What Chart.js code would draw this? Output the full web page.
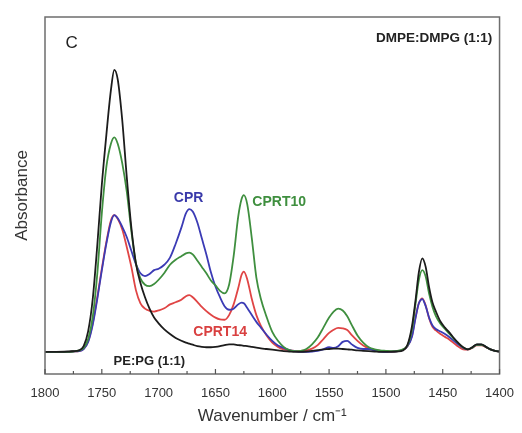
<!DOCTYPE html>
<html>
<head>
<meta charset="utf-8">
<script src="https://cdn.jsdelivr.net/npm/chart.js@4.4.1/dist/chart.umd.min.js"></script>
<style>
  html, body { margin: 0; padding: 0; background: #ffffff; }
  canvas { display: block; }
</style>
</head>
<body>
<canvas id="c" width="522" height="433"></canvas>
<script>
// Wavenumber grid (cm^-1)
const wavenumbers = [1800,1790,1780,1775,1770,1766,1762,1758,1754,1750,1746,1742,1739,1736,1732,1728,1724,1720,1716,1712,
  1708,1704,1700,1695,1690,1685,1680,1676,1673,1670,1666,1662,1658,1654,1650,1646,1642,1638,1634,1630,
  1627,1625,1622,1618,1614,1610,1605,1600,1595,1590,1585,1580,1575,1570,1565,1560,1555,1550,1546,1542,
  1538,1534,1530,1525,1520,1515,1510,1505,1500,1495,1490,1485,1481,1477,1474,1471,1468,1465,1462,1459,
  1456,1452,1448,1444,1440,1436,1432,1428,1424,1420,1416,1412,1408,1404,1400];

// PE:PG (1:1) - black
const pePg = [6.2,6.2,6.3,6.4,6.6,7.8,12,21,36,53,67,79.5,85.2,82.5,71,55,41,31,25.5,21.5,
  18.3,15.8,14.2,12.5,11.2,10.1,9.3,8.8,8.5,8.2,7.8,7.6,7.5,7.5,7.6,7.8,8.1,8.3,8.3,8.1,
  8.0,7.9,7.8,7.6,7.4,7.2,7.0,6.8,6.6,6.4,6.3,6.2,6.2,6.3,6.5,6.7,6.9,7.0,7.1,7.1,
  7.0,6.9,6.8,6.6,6.5,6.4,6.3,6.2,6.2,6.2,6.3,6.6,8.2,13.5,20.5,28.5,32.4,30,24.3,20,
  17.5,14.7,13,11.6,10,8.6,7.5,6.9,7.5,8.3,8.3,7.6,6.9,6.5,6.3];

// CPRT10 - green
const cprt10 = [6.2,6.2,6.2,6.3,6.6,7.3,9.8,16,28,45,58,64.5,66.3,64.5,59,51,40,31,26.8,25.0,
  24.6,25.2,26.4,28.3,30.6,32.0,33.0,33.8,34.0,33.5,31.8,30,28.2,26.2,24.8,23.3,22.6,25,33,44,
  49,50.1,47.5,38,27,21,16,11.8,9.3,7.6,6.7,6.4,6.5,7.0,8.3,10.2,13.0,15.8,17.5,18.3,
  17.8,16.2,13.7,10.8,8.8,7.5,6.9,6.6,6.5,6.4,6.5,6.9,8.0,12.5,19.5,26.3,29.1,27.3,22.5,18.8,
  16.2,14.1,12.6,11.2,9.8,8.6,7.4,6.9,7.4,8.2,8.2,7.6,6.9,6.5,6.3];

// CPR - blue
const cpr = [6.2,6.2,6.2,6.3,6.4,7.0,9.0,13.8,21,29,36.5,42.5,44.5,43.6,41.2,38.3,34.5,30.8,28.2,27.4,
  28.0,29.1,29.5,30.6,32.6,36.5,41,45,46.2,45.5,42.5,38,33.5,28.5,24.5,21.5,19,18,18.3,19.5,
  20,19.8,18.5,16.5,14.6,13,11.0,9.3,8.0,7.3,6.7,6.4,6.2,6.2,6.3,6.5,6.9,7.5,7.3,7.8,
  9.0,9.3,8.3,7.3,7.0,7.0,6.6,6.3,6.2,6.3,6.4,6.8,7.8,10.5,15.5,19.8,21.0,19.0,15.8,13.6,
  12.6,11.9,11.2,10.3,9.2,8.2,7.3,6.9,7.4,8.2,8.2,7.6,6.9,6.5,6.3];

// CPRT14 - red
const cprt14 = [6.2,6.2,6.2,6.3,6.4,7.0,9.2,14.2,21.5,29.5,37,43,44.5,43.5,40.5,35.5,30,23.5,19.8,18.3,
  17.7,17.5,17.8,18.4,19.5,20.1,20.8,21.8,22.1,21.5,20.2,18.8,17.6,16.6,15.8,15.3,15.2,16.5,19.5,24,
  27.8,28.7,26.5,21,16.5,13.5,10.8,8.8,7.6,6.9,6.6,6.5,6.5,6.6,7.1,8.1,9.8,11.5,12.4,12.9,
  12.8,12.3,10.9,9.3,8.0,7.2,6.7,6.5,6.4,6.3,6.4,6.8,7.8,10.8,15.8,19.8,21.2,19.2,15.6,13.2,
  12.2,11.2,10.4,9.6,8.6,7.6,6.9,6.8,7.3,8.0,8.0,7.5,6.9,6.5,6.3];

const xTickStep = 50;
const seriesNames = ['PE:PG (1:1)', 'CPRT10', 'CPR', 'CPRT14'];

const FONT = '"Liberation Sans", Arial, Helvetica, sans-serif';

// Text annotations, placed in data coordinates (wavenumber, absorbance units)
const annotations = [
  { text: 'C', w: 1776.6, a: 92.7, color: '#222', font: 'normal 17px ' + FONT, align: 'center' },
  { text: 'DMPE:DMPG (1:1)', w: 1406.5, a: 94.1, color: '#222', font: 'bold 13.5px ' + FONT, align: 'right' },
  { text: 'CPR', w: 1673.6, a: 49.3, color: '#3a3aaa', font: 'bold 14px ' + FONT, align: 'center' },
  { text: 'CPRT10', w: 1593.9, a: 48.2, color: '#3f8f3f', font: 'bold 14px ' + FONT, align: 'center' },
  { text: 'CPRT14', w: 1645.9, a: 11.8, color: '#d94040', font: 'bold 14px ' + FONT, align: 'center' },
  { text: 'PE:PG (1:1)', w: 1708.2, a: 3.4, color: '#222', font: 'bold 13px ' + FONT, align: 'center' }
];

function pairs(vals) {
  return wavenumbers.map((w, i) => ({ x: w, y: vals[i] }));
}

const framePlugin = {
  id: 'framePlugin',
  afterDatasetsDraw(chart) {
    const { ctx, chartArea: a, scales: { x, y } } = chart;
    ctx.save();
    ctx.strokeStyle = '#6e6e6e';
    ctx.lineWidth = 1.5;
    ctx.strokeRect(a.left, a.top, a.right - a.left, a.bottom - a.top);
    ctx.lineWidth = 1.2;
    ctx.strokeStyle = '#555';
    for (let v = x.min; v <= x.max; v += xTickStep / 2) {
      const px = x.getPixelForValue(v);
      const major = (v % xTickStep) === 0;
      ctx.beginPath();
      ctx.moveTo(px, a.bottom);
      ctx.lineTo(px, a.bottom - (major ? 5 : 3));
      ctx.stroke();
    }
    ctx.textBaseline = 'middle';
    annotations.forEach(t => {
      ctx.font = t.font;
      ctx.fillStyle = t.color;
      ctx.textAlign = t.align;
      ctx.fillText(t.text, x.getPixelForValue(t.w), y.getPixelForValue(t.a));
    });
    ctx.restore();
  }
};

const colors = ['#1c1c1c', '#3f8f3f', '#3b3bb5', '#e04545'];
const seriesData = [pePg, cprt10, cpr, cprt14];

new Chart(document.getElementById('c'), {
  type: 'line',
  data: {
    datasets: seriesData.map((vals, i) => ({
      label: seriesNames[i],
      data: pairs(vals),
      borderColor: colors[i],
      borderWidth: 1.8,
      pointRadius: 0,
      fill: false,
      cubicInterpolationMode: 'monotone'
    }))
  },
  options: {
    responsive: false,
    devicePixelRatio: 1,
    animation: false,
    layout: { padding: { top: 17, right: 15, left: 0, bottom: 0 } },
    plugins: { legend: { display: false }, tooltip: { enabled: false } },
    scales: {
      x: {
        type: 'linear',
        reverse: true,
        min: 1400,
        max: 1800,
        border: { display: false },
        grid: { display: true, drawOnChartArea: false, drawTicks: true, tickLength: 4, tickColor: 'rgba(0,0,0,0)' },
        ticks: { stepSize: xTickStep, padding: 8, color: '#333', font: { family: FONT, size: 13 }, maxRotation: 0,
                 callback: v => String(v) },
        title: { display: true, text: 'Wavenumber / cm\u207B\u00B9', color: '#333', font: { family: FONT, size: 17 }, padding: { top: 4, bottom: 6 } },
        afterFit(scale) { scale.height = 59; }
      },
      y: {
        min: 0,
        max: 100,
        border: { display: false },
        grid: { display: false },
        ticks: { display: false },
        title: { display: true, text: 'Absorbance', color: '#333', font: { family: FONT, size: 17 }, padding: { top: 12, bottom: 0 } },
        afterFit(scale) { scale.width = 45; }
      }
    }
  },
  plugins: [framePlugin]
});
</script>
</body>
</html>
